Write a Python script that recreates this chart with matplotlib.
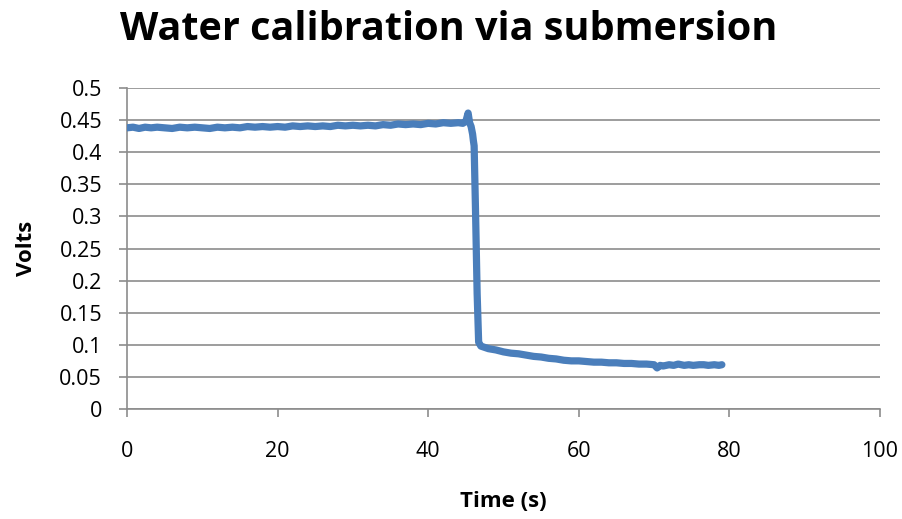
import numpy as np
import matplotlib
matplotlib.use("Agg")
import matplotlib.pyplot as plt

# Donnees (temps en s, tension en V)
temps = [0, 0.8, 1.6, 2.4, 3.2, 4.0, 5.0, 6.0, 7.0, 8.0, 9.0, 10.0, 11.0, 12.0,
         13.0, 14.0, 15.0, 16.0, 17.0, 18.0, 19.0, 20.0, 21.0, 22.0, 23.0, 24.0,
         25.0, 26.0, 27.0, 28.0, 29.0, 30.0, 31.0, 32.0, 33.0, 34.0, 35.0, 36.0,
         37.0, 38.0, 39.0, 40.0, 41.0, 42.0, 43.0, 44.0, 44.6, 45.0, 45.3, 45.5,
         45.7, 45.9, 46.0, 46.1, 46.3, 46.5, 46.7, 47.0, 47.5, 48.0, 49.0, 50.0,
         51.0, 52.0, 53.0, 54.0, 55.0, 56.0, 57.0, 58.0, 59.0, 60.0, 61.0, 62.0,
         63.0, 64.0, 65.0, 66.0, 67.0, 68.0, 69.0, 70.0, 70.4, 70.8, 71.2, 72.0,
         72.6, 73.2, 74.0, 74.6, 75.2, 76.0, 76.6, 77.2, 78.0, 78.6, 79.0]
volts = [0.438, 0.439, 0.437, 0.439, 0.438, 0.439, 0.438, 0.437, 0.439, 0.438,
         0.439, 0.438, 0.437, 0.439, 0.438, 0.439, 0.438, 0.440, 0.439, 0.440,
         0.439, 0.440, 0.439, 0.441, 0.440, 0.441, 0.440, 0.441, 0.440, 0.442,
         0.441, 0.442, 0.441, 0.442, 0.441, 0.443, 0.442, 0.444, 0.443, 0.444,
         0.443, 0.445, 0.444, 0.446, 0.445, 0.446, 0.445, 0.448, 0.461, 0.446,
         0.440, 0.428, 0.418, 0.410, 0.300, 0.180, 0.104, 0.098, 0.096, 0.094,
         0.092, 0.089, 0.087, 0.086, 0.084, 0.082, 0.081, 0.079, 0.078, 0.076,
         0.075, 0.075, 0.074, 0.073, 0.073, 0.072, 0.072, 0.071, 0.071, 0.070,
         0.070, 0.069, 0.064, 0.068, 0.067, 0.069, 0.068, 0.070, 0.068, 0.069,
         0.068, 0.069, 0.069, 0.068, 0.069, 0.068, 0.069]

x_ticks = [0, 20, 40, 60, 80, 100]
y_ticks = [0, 0.05, 0.1, 0.15, 0.2, 0.25, 0.3, 0.35, 0.4, 0.45, 0.5]
y_labels = ['0', '0.05', '0.1', '0.15', '0.2', '0.25', '0.3', '0.35', '0.4', '0.45', '0.5']

plt.rcParams['font.family'] = ['Open Sans', 'DejaVu Sans']

fig = plt.figure(figsize=(9.02, 5.19), dpi=100)
ax = fig.add_axes([0.1408, 0.2119, 0.8348, 0.6185])

ax.plot(temps, volts, color='#4A7EBB', linewidth=5.2, solid_joinstyle='round',
        solid_capstyle='round', zorder=3)

ax.set_xlim(0, 100)
ax.set_ylim(0, 0.5)
ax.set_xticks(x_ticks)
ax.set_xticklabels([str(v) for v in x_ticks])
ax.set_yticks(y_ticks)
ax.set_yticklabels(y_labels)

# grille horizontale facon Excel
ax.yaxis.grid(True, color='#8C8C8C', linewidth=1.2)
ax.set_axisbelow(True)
for cote in ['top', 'right']:
    ax.spines[cote].set_visible(False)
for cote in ['left', 'bottom']:
    ax.spines[cote].set_color('#8C8C8C')
    ax.spines[cote].set_linewidth(1.2)

ax.tick_params(axis='x', direction='out', length=6, width=1.2, color='#8C8C8C',
               labelsize=15.5, pad=17)
ax.tick_params(axis='y', direction='out', length=6, width=1.2, color='#8C8C8C',
               labelsize=15.5, pad=12)

fig.text(449 / 902, 1 - 30 / 519, 'Water calibration via submersion', fontsize=28.5,
         fontweight='bold', ha='center', va='center')
ax.set_xlabel('Time (s)', fontsize=16, fontweight='bold', labelpad=21)
ax.set_ylabel('Volts', fontsize=16, fontweight='bold', labelpad=16)

plt.savefig('out.png', dpi=100)
